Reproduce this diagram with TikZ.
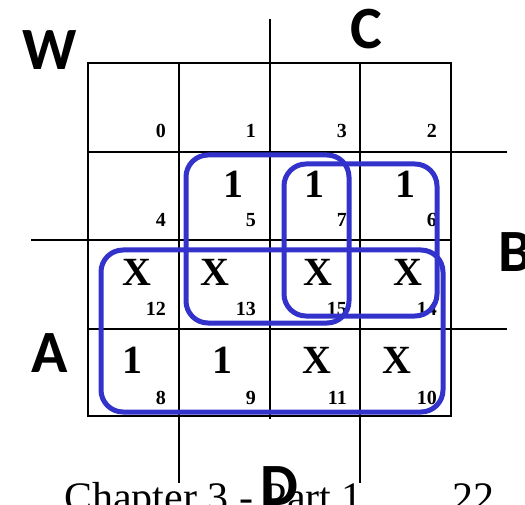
\documentclass[tikz,border=0pt]{standalone}
\usepackage{fontspec}
\setmainfont{Liberation Serif}
\newfontfamily\varfont{Carlito}
\definecolor{loopblue}{RGB}{51,51,204}

\begin{document}
\begin{tikzpicture}
        [x=1pt,y=-1pt,
         cellval/.style={font=\fontsize{40}{40}\selectfont\bfseries, anchor=base, inner sep=0pt},
         mterm/.style={font=\fontsize{20}{20}\selectfont\bfseries, anchor=base east, inner sep=0pt},
         varname/.style={font=\varfont\bfseries\fontsize{60}{60}\selectfont, anchor=base, inner sep=0pt},
         kloop/.style={loopblue, line width=5pt, rounded corners=22pt}]
        \clip (0,0) rectangle (525,505);
        %griglia della mappa
            \draw[line width=2.5pt] (88,63) rectangle (451,416);
            \draw[line width=2.5pt] (179,63)--++ (0,420);
            \draw[line width=2.5pt] (360,63)--++ (0,420);
            \draw[line width=2.5pt] (270,19)--++ (0,400);
            \draw[line width=2.5pt] (88,152)--++ (419,0);
            \draw[line width=2.5pt] (31,240)--++ (420,0);
            \draw[line width=2.5pt] (88,329)--++ (419,0);
            %numeri dei mintermini
            \node (m0) at (166,138)[mterm]{0};
            \node (m1) at (256,138)[mterm]{1};
            \node (m3) at (347,138)[mterm]{3};
            \node (m2) at (437,138)[mterm]{2};
            \node (m4) at (166,227)[mterm]{4};
            \node (m5) at (256,227)[mterm]{5};
            \node (m7) at (347,227)[mterm]{7};
            \node (m6) at (437,227)[mterm]{6};
            \node (m12) at (166,316)[mterm]{12};
            \node (m13) at (256,316)[mterm]{13};
            \node (m15) at (347,316)[mterm]{15};
            \node (m14) at (437,316)[mterm]{14};
            \node (m8) at (166,404)[mterm]{8};
            \node (m9) at (256,404)[mterm]{9};
            \node (m11) at (347,404)[mterm]{11};
            \node (m10) at (437,404)[mterm]{10};
            %valori delle celle
            \node (v5) at (233,198)[cellval]{1};
            \node (v7) at (314,198)[cellval]{1};
            \node (v6) at (405,198)[cellval]{1};
            \node (v12) at (137,286)[cellval]{X};
            \node (v13) at (215,286)[cellval]{X};
            \node (v15) at (318,286)[cellval]{X};
            \node (v14) at (408,286)[cellval]{X};
            \node (v8) at (132,373)[cellval]{1};
            \node (v9) at (222,373)[cellval]{1};
            \node (v11) at (317,373)[cellval]{X};
            \node (v10) at (397,373)[cellval]{X};
            %testo in basso
            \node (chap) at (64,511)[anchor=base west, inner sep=0pt, font=\fontsize{42}{42}\selectfont]{Chapter 3 - Part 1};
            \node (page) at (452,511)[anchor=base west, inner sep=0pt, font=\fontsize{42}{42}\selectfont]{22};
            %nomi delle variabili
            \node (lw) at (50,70)[varname]{W};
            \node (lc) at (366,49)[varname]{C};
            \node (lb) at (498,272)[varname, anchor=base west]{B};
            \node (la) at (50,372)[varname]{A};
            \node (ld) at (279,505)[varname]{D};
            %raggruppamenti
            \draw[kloop] (186,155) rectangle (349,323);
            \draw[kloop] (284,164) rectangle (437,316);
            \draw[kloop] (101,250) rectangle (443,412);
    \end{tikzpicture}
\end{document}
